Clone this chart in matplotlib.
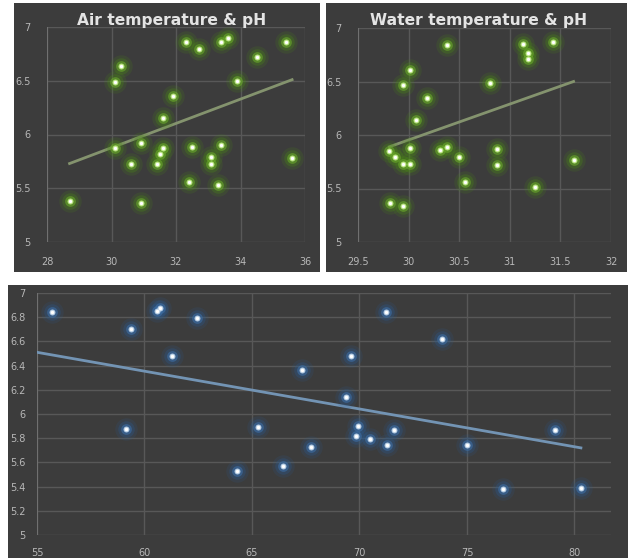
import numpy as np
import matplotlib
matplotlib.use("Agg")
import matplotlib.pyplot as plt

# ---------------- data ----------------
air_temp = [28.7, 30.1, 30.3, 30.1, 30.6, 30.9, 30.9, 31.6, 31.6, 31.5, 31.4, 31.9,
            32.3, 32.7, 32.5, 32.4, 33.1, 33.1, 33.3, 33.4, 33.4, 33.6, 33.9, 34.5,
            35.4, 35.6]
air_ph = [5.38, 6.49, 6.64, 5.87, 5.73, 5.92, 5.36, 6.15, 5.87, 5.82, 5.73, 6.36,
          6.86, 6.80, 5.88, 5.56, 5.79, 5.73, 5.53, 5.90, 6.86, 6.90, 6.50, 6.72,
          6.86, 5.78]
air_trend_x = [28.7, 35.6]
air_trend_y = [5.73, 6.51]

water_temp = [29.81, 29.87, 29.94, 30.01, 30.01, 29.82, 29.94, 29.94, 30.01, 30.07,
              30.18, 30.31, 30.38, 30.38, 30.50, 30.56, 30.80, 30.87, 30.87, 31.13,
              31.18, 31.18, 31.25, 31.43, 31.63]
water_ph = [5.85, 5.79, 5.73, 5.73, 5.88, 5.36, 5.34, 6.47, 6.61, 6.14, 6.35, 5.86,
            5.89, 6.84, 5.79, 5.56, 6.49, 5.87, 5.72, 6.85, 6.77, 6.71, 5.51, 6.87,
            5.77]
water_trend_x = [29.81, 31.63]
water_trend_y = [5.89, 6.50]

humidity = [55.7, 59.37, 59.14, 60.58, 60.72, 61.28, 62.44, 64.30, 65.28, 66.44,
            67.33, 67.74, 69.37, 69.60, 69.93, 69.84, 70.49, 71.23, 71.28, 71.60,
            73.84, 75.0, 76.67, 79.09, 80.30]
hum_ph = [6.84, 6.70, 5.88, 6.85, 6.88, 6.48, 6.79, 5.53, 5.89, 5.57, 6.36, 5.73,
          6.14, 6.48, 5.90, 5.82, 5.79, 6.84, 5.74, 5.87, 6.62, 5.74, 5.38, 5.87,
          5.39]
hum_trend_x = [55, 80.3]
hum_trend_y = [6.51, 5.72]

titles = ["Air temperature & pH", "Water temperature & pH"]
air_xticks = [28, 30, 32, 34, 36]
water_xticks = [29.5, 30, 30.5, 31, 31.5, 32]
water_xlabels = ["29.5", "30", "30.5", "31", "31.5", "32"]
top_yticks = [5, 5.5, 6, 6.5, 7]
top_ylabels = ["5", "5.5", "6", "6.5", "7"]
hum_xticks = [55, 60, 65, 70, 75, 80]
hum_yticks = [5, 5.2, 5.4, 5.6, 5.8, 6, 6.2, 6.4, 6.6, 6.8, 7]
hum_ylabels = ["5", "5.2", "5.4", "5.6", "5.8", "6", "6.2", "6.4", "6.6", "6.8", "7"]

# ---------------- layout ----------------
W, H = 636, 558
fig = plt.figure(figsize=(W / 100, H / 100), dpi=100)
fig.patch.set_facecolor("white")

BG = "#3c3c3c"
GRID = "#585858"
TICK = "#b8b8b8"


def px_axes(x0, y0, x1, y1, **kw):
    return fig.add_axes([x0 / W, 1 - y1 / H, (x1 - x0) / W, (y1 - y0) / H], **kw)


def panel(x0, y0, x1, y1):
    a = px_axes(x0, y0, x1, y1, zorder=-5)
    a.set_facecolor(BG)
    a.set_xticks([]); a.set_yticks([])
    for s in a.spines.values():
        s.set_visible(False)


def style(ax, xpad, ypad):
    ax.set_facecolor("none")
    for s in ax.spines.values():
        s.set_visible(False)
    ax.grid(True, color=GRID, linewidth=1.0)
    ax.set_axisbelow(True)
    ax.tick_params(colors=TICK, labelsize=7, length=0)
    ax.tick_params(axis="x", pad=xpad)
    ax.tick_params(axis="y", pad=ypad)


def glow(ax, x, y, c1, c2, c3):
    ax.scatter(x, y, s=260, color=c1, alpha=0.16, linewidths=0, zorder=3)
    ax.scatter(x, y, s=140, color=c1, alpha=0.3, linewidths=0, zorder=3)
    ax.scatter(x, y, s=60, color=c2, alpha=0.6, linewidths=0, zorder=4)
    ax.scatter(x, y, s=18, color=c3, alpha=0.9, linewidths=0, zorder=5)
    ax.scatter(x, y, s=6, color="white", linewidths=0, zorder=6)


# panels
panel(14, 3, 320, 272)
panel(326, 3, 627, 272)
panel(8, 285, 628, 558)

# top-left
ax1 = px_axes(47, 27, 305, 242)
style(ax1, 11, 12)
ax1.set_xlim(28, 36); ax1.set_ylim(5, 7)
ax1.set_xticks(air_xticks); ax1.set_yticks(top_yticks)
ax1.set_xticklabels([str(t) for t in air_xticks])
ax1.set_yticklabels(top_ylabels)
ax1.axvline(28, color="#767676", linewidth=1.2, zorder=1)
ax1.plot(air_trend_x, air_trend_y, color="#84936e", linewidth=2, zorder=2)
glow(ax1, air_temp, air_ph, "#4a8a14", "#6aaa2a", "#c8f090")
fig.text(172 / W, 1 - 20 / H, titles[0], ha="center", va="center",
         fontsize=11.2, fontweight="bold", color="#e4e4e4")

# top-right
ax2 = px_axes(358, 28, 611, 242)
style(ax2, 11, 12)
ax2.set_xlim(29.5, 32); ax2.set_ylim(5, 7)
ax2.set_xticks(water_xticks); ax2.set_yticks(top_yticks)
ax2.set_xticklabels(water_xlabels)
ax2.set_yticklabels(top_ylabels)
ax2.axvline(29.5, color="#767676", linewidth=1.2, zorder=1)
ax2.plot(water_trend_x, water_trend_y, color="#84936e", linewidth=2, zorder=2)
glow(ax2, water_temp, water_ph, "#4a8a14", "#6aaa2a", "#c8f090")
fig.text(479 / W, 1 - 20 / H, titles[1], ha="center", va="center",
         fontsize=11.2, fontweight="bold", color="#e4e4e4")

# bottom
ax3 = px_axes(37, 293, 611, 535)
style(ax3, 9, 8)
ax3.set_xlim(55, 81.7); ax3.set_ylim(5, 7)
ax3.set_xticks(hum_xticks); ax3.set_yticks(hum_yticks)
ax3.set_xticklabels([str(t) for t in hum_xticks])
ax3.set_yticklabels(hum_ylabels)
ax3.axvline(55, color="#767676", linewidth=1.2, zorder=1)
ax3.plot(hum_trend_x, hum_trend_y, color="#7394b4", linewidth=2, zorder=2)
glow(ax3, humidity, hum_ph, "#2a5a90", "#3d6fa6", "#c8dcf0")

fig.savefig("out.png", dpi=100, facecolor="white")
